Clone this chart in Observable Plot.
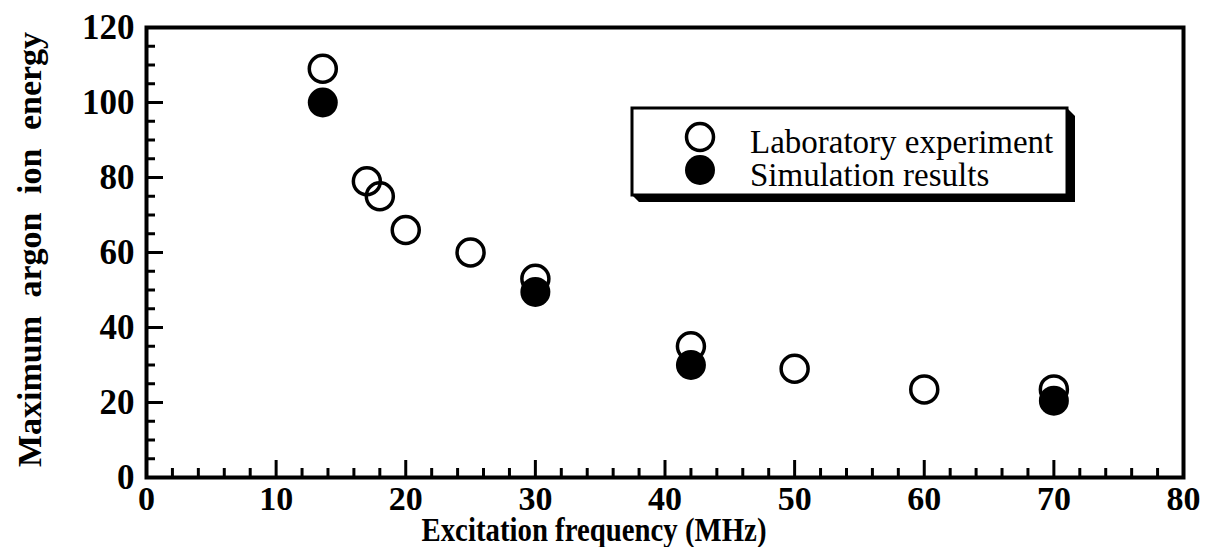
<!DOCTYPE html>
<html><head><meta charset="utf-8">
<script src="https://cdn.jsdelivr.net/npm/d3@7"></script>
<script src="https://cdn.jsdelivr.net/npm/@observablehq/plot@0.6"></script>
<style>body{margin:0;background:#fff;}</style>
</head><body><div id="chart"></div>
<script>
// Data
const labFreq   = [13.6, 17, 18, 20, 25, 30, 42, 50, 60, 70];
const labEnergy = [109, 79, 75, 66, 60, 53, 35, 29, 23.5, 23.5];
const simFreq   = [13.6, 30, 42, 70];
const simEnergy = [100, 49.5, 30, 20.5];

// Ticks & labels
const xMajor = [0, 10, 20, 30, 40, 50, 60, 70, 80];
const xMinor = d3.range(0, 81, 2).filter(v => v % 10 !== 0);
const yMajor = [0, 20, 40, 60, 80, 100, 120];
const yMinor = d3.range(0, 121, 5).filter(v => v % 20 !== 0);
const xTitle = "Excitation frequency (MHz)";
const yTitle = "Maximum argon ion energy";
const legendLabels = ["Laboratory experiment", "Simulation results"];

const lab = labFreq.map((f, i) => ({f, e: labEnergy[i]}));
const sim = simFreq.map((f, i) => ({f, e: simEnergy[i]}));

const font = "'Liberation Serif', 'Times New Roman', serif";

const plot = Plot.plot({
  width: 1208, height: 547,
  marginLeft: 146, marginRight: 25, marginTop: 27, marginBottom: 70,
  style: {fontFamily: font, background: "#fff", color: "#000", overflow: "visible"},
  x: {domain: [0, 80]},
  y: {domain: [0, 120]},
  marks: [
    Plot.axisX(xMajor, {tickSize: -17, strokeWidth: 3, text: null, label: null}),
    Plot.axisX(xMinor, {tickSize: -9, strokeWidth: 3, text: null, label: null}),
    Plot.axisX(xMajor, {tickSize: 0, tickPadding: 8, fontSize: 34, fontWeight: "bold", label: null}),
    Plot.axisY(yMajor, {tickSize: -17, strokeWidth: 3, text: null, label: null}),
    Plot.axisY(yMinor, {tickSize: -9, strokeWidth: 3, text: null, label: null}),
    Plot.axisY(yMajor, {tickSize: 0, tickPadding: 12, fontSize: 35, fontWeight: "bold", label: null}),
    Plot.frame({strokeWidth: 4}),
    Plot.dot(lab, {x: "f", y: "e", r: 13.5, stroke: "black", strokeWidth: 3.5, fill: "none"}),
    Plot.dot(sim, {x: "f", y: "e", r: 15, fill: "black", stroke: "none"}),
    Plot.text([xTitle], {text: d => d, frameAnchor: "bottom", textAnchor: "middle", lineAnchor: "middle", dx: -71, dy: 53, fontSize: 34, fontWeight: "bold"}),
    Plot.text([yTitle], {text: d => d, frameAnchor: "left", textAnchor: "middle", lineAnchor: "middle", rotate: -90, dx: -116, dy: -3, fontSize: 34, fontWeight: "bold"})
  ]
});

document.getElementById("chart").appendChild(plot);

const svg = d3.select(plot);
svg.selectAll("text").filter(function(){ return this.textContent === yTitle; })
   .style("word-spacing", "10px");
svg.selectAll("text").filter(function(){ return this.textContent === xTitle; })
   .attr("textLength", 345).attr("lengthAdjust", "spacingAndGlyphs");

// Legend box with bevelled drop shadow
const g = svg.append("g");
g.append("path")
  .attr("d", "M1067,108 L1075,116 L1075,202 L639,202 L632,195 L1067,195 Z")
  .attr("fill", "black");
g.append("rect")
  .attr("x", 632).attr("y", 108).attr("width", 435).attr("height", 87)
  .attr("fill", "white").attr("stroke", "black").attr("stroke-width", 3);
g.append("circle").attr("cx", 700).attr("cy", 137).attr("r", 13.5)
  .attr("fill", "none").attr("stroke", "black").attr("stroke-width", 3.5);
g.append("circle").attr("cx", 700).attr("cy", 170).attr("r", 15).attr("fill", "black");
legendLabels.forEach((t, i) => {
  g.append("text").attr("x", 750).attr("y", 153 + i * 33)
    .attr("text-anchor", "start")
    .attr("font-family", font).attr("font-size", 33).attr("font-weight", "normal").text(t);
});
</script>
</body></html>
